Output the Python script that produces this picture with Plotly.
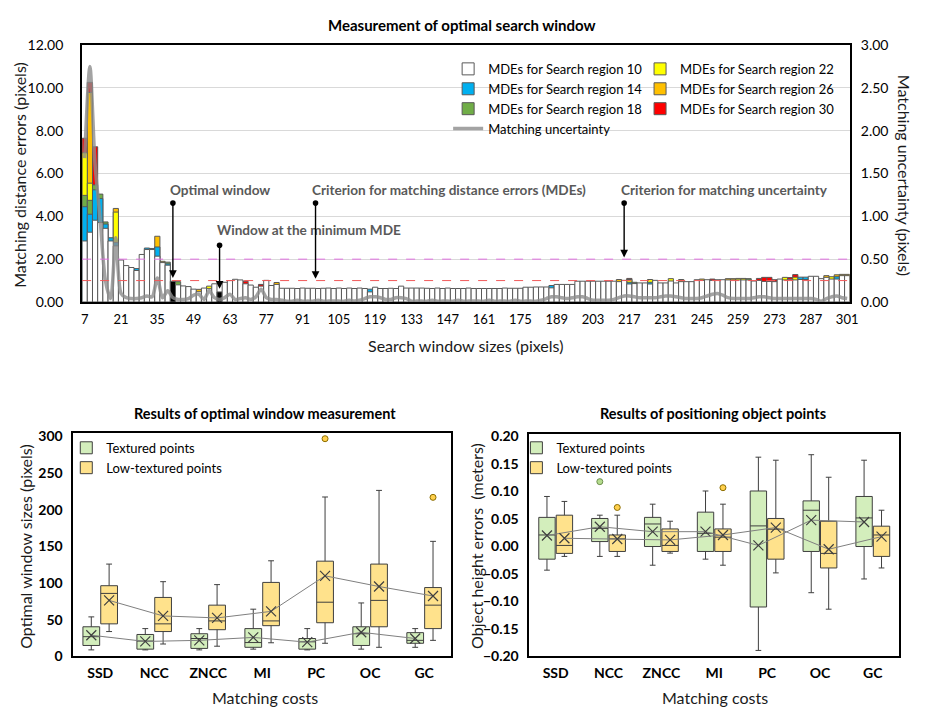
import plotly.graph_objects as go

W, H = 930, 726
FONT = "Lato"

# ---------------- data: top chart ----------------
windows = list(range(7, 302, 2))
xtick_windows = list(range(7, 302, 14))

mde_r10 = [
    2.85, 3.26, 3.82, 3.71, 3.44, 2.85, 2.62, 1.96, 1.70, 1.61,
    1.47, 2.22, 2.45, 2.45, 2.14, 1.84, 1.72, 0.97, 0.80, 0.75,
    0.72, 0.60, 0.48, 0.65, 0.62, 0.85, 0.47, 0.92, 1.00, 1.06,
    1.03, 0.85, 0.79, 0.69, 0.74, 1.01, 0.77, 0.82, 0.64, 0.64,
    0.64, 0.63, 0.65, 0.64, 0.64, 0.63, 0.64, 0.65, 0.63, 0.65,
    0.63, 0.65, 0.63, 0.65, 0.63, 0.47, 0.69, 0.63, 0.63, 0.64,
    0.63, 0.74, 0.65, 0.65, 0.65, 0.65, 0.64, 0.63, 0.65, 0.63,
    0.65, 0.63, 0.63, 0.63, 0.65, 0.63, 0.63, 0.63, 0.63, 0.63,
    0.63, 0.65, 0.64, 0.64, 0.64, 0.69, 0.69, 0.70, 0.70, 0.70,
    0.66, 0.82, 0.82, 0.82, 0.82, 0.97, 0.97, 0.97, 0.97, 0.97,
    0.97, 0.97, 0.97, 0.95, 1.01, 0.84, 0.86, 0.89, 0.89, 0.84,
    1.01, 0.89, 0.89, 0.98, 0.89, 0.95, 0.95, 0.95, 1.04, 1.01,
    1.04, 1.01, 1.04, 1.04, 1.03, 1.03, 1.03, 1.03, 1.03, 0.98,
    1.01, 0.96, 0.96, 0.95, 1.07, 1.03, 1.06, 1.03, 1.05, 1.05,
    1.20, 1.20, 1.09, 1.15, 1.07, 1.07, 1.23, 1.23,
]

# visible tops of the larger search regions (only where they show above smaller ones)
r14_windows = [7, 9, 11, 13, 15, 17, 19, 27, 31, 33, 35, 39, 117, 187, 217, 225, 283, 285, 297]
r14_values = [4.45, 4.10, 5.24, 4.83, 3.64, 3.00, 2.78, 1.56, 2.52, 2.50, 2.57, 1.78, 0.60, 0.77, 0.92, 0.92, 1.16, 1.16, 1.18]
r18_windows = [7, 9, 11, 13, 15, 39, 43, 219, 263]
r18_values = [4.98, 4.75, 5.47, 5.04, 3.74, 1.86, 0.95, 0.92, 1.09]
r22_windows = [7, 9, 19, 55, 217, 225, 233, 259, 261, 277, 281, 295]
r22_values = [6.97, 5.55, 4.20, 0.74, 1.05, 1.05, 1.09, 1.10, 1.10, 1.15, 1.16, 1.18]
r26_windows = [9, 19, 35, 37, 51, 81, 213, 237, 245, 255, 257, 293, 297, 299, 301]
r26_values = [9.79, 4.37, 3.07, 1.90, 0.59, 0.91, 1.05, 1.05, 1.07, 1.09, 1.09, 1.23, 1.27, 1.29, 1.29]
r30_windows = [7, 9, 11, 69, 75, 217, 249, 267, 269, 271, 273, 279, 281]
r30_values = [7.65, 10.26, 7.25, 0.97, 0.82, 1.10, 1.07, 1.10, 1.15, 1.15, 1.04, 1.14, 1.28]

uncertainty = [
    1.68, 2.75, 1.60, 0.95, 0.25, 0.04, 0.75, 0.10, 0.05, 0.04,
    0.04, 0.05, 0.07, 0.06, 0.28, 0.05, 0.13, 0.05, 0.03, 0.03,
    0.04, 0.08, 0.09, 0.03, 0.13, 0.05, 0.03, 0.05, 0.09, 0.03,
    0.04, 0.05, 0.03, 0.06, 0.15, 0.05, 0.03, 0.03, 0.02, 0.01,
    0.01, 0.02, 0.01, 0.01, 0.01, 0.02, 0.01, 0.01, 0.01, 0.01,
    0.01, 0.02, 0.01, 0.02, 0.04, 0.06, 0.06, 0.05, 0.03, 0.03,
    0.05, 0.05, 0.04, 0.01, 0.01, 0.01, 0.01, 0.02, 0.01, 0.01,
    0.01, 0.01, 0.02, 0.01, 0.01, 0.01, 0.01, 0.01, 0.02, 0.01,
    0.01, 0.01, 0.01, 0.02, 0.01, 0.01, 0.01, 0.01, 0.02, 0.04,
    0.06, 0.06, 0.05, 0.04, 0.05, 0.06, 0.06, 0.04, 0.02, 0.02,
    0.02, 0.02, 0.03, 0.05, 0.07, 0.07, 0.06, 0.05, 0.05, 0.05,
    0.05, 0.06, 0.07, 0.07, 0.06, 0.05, 0.04, 0.04, 0.04, 0.05,
    0.07, 0.09, 0.10, 0.08, 0.05, 0.04, 0.04, 0.04, 0.04, 0.05,
    0.06, 0.06, 0.05, 0.04, 0.04, 0.04, 0.04, 0.04, 0.04, 0.04,
    0.04, 0.03, 0.01, 0.04, 0.06, 0.07, 0.05, 0.04,
]

optimal_window = 41
min_mde_window = 59
mde_criterion = 1.0
uncertainty_criterion = 0.5

# ---------------- data: bottom charts ----------------
cost_names = ["SSD", "NCC", "ZNCC", "MI", "PC", "OC", "GC"]

win_tex_min = [9, 9, 9, 10, 9, 10, 12.5]
win_tex_q1 = [15, 10, 11, 12.5, 10, 15, 18]
win_tex_med = [27, 21, 24.5, 19, 20, 31, 22]
win_tex_q3 = [40.5, 30, 31, 38, 24.5, 40.5, 32.5]
win_tex_max = [54, 38, 38, 64.5, 38, 73, 38]
win_tex_mean = [29, 20.5, 22, 26, 19.5, 33, 24.5]

win_low_min = [34, 17, 14, 18.7, 18, 12.5, 22]
win_low_q1 = [44.5, 34, 36.5, 42, 46, 40.5, 38]
win_low_med = [86, 44.5, 48.5, 48.5, 74, 76.5, 70]
win_low_q3 = [96.5, 80.5, 70, 101, 130, 126, 94]
win_low_max = [126, 102, 98, 130.5, 217.5, 226.5, 157]
win_low_mean = [76.5, 55.3, 52.6, 61.5, 110, 95.4, 82.5]
win_low_outlier_cost = ["PC", "GC"]
win_low_outlier_val = [297, 217]

err_tex_min = [-0.043, -0.018, -0.034, -0.023, -0.189, -0.084, -0.059]
err_tex_q1 = [-0.023, 0.009, 0.0, -0.009, -0.110, -0.009, 0.0]
err_tex_med = [0.021, 0.033, 0.041, 0.024, 0.0375, 0.066, 0.052]
err_tex_q3 = [0.053, 0.051, 0.053, 0.0625, 0.101, 0.083, 0.091]
err_tex_max = [0.091, 0.057, 0.077, 0.101, 0.1625, 0.167, 0.157]
err_tex_mean = [0.020, 0.036, 0.027, 0.027, 0.002, 0.048, 0.0446]
err_tex_outlier_cost = ["NCC"]
err_tex_outlier_val = [0.118]

err_low_min = [-0.018, -0.018, -0.012, -0.034, -0.048, -0.114, -0.039]
err_low_q1 = [-0.0125, -0.009, -0.009, -0.009, -0.023, -0.039, -0.018]
err_low_med = [0.002, 0.014, 0.002, 0.017, 0.0315, -0.0125, 0.021]
err_low_q3 = [0.057, 0.021, 0.032, 0.032, 0.051, 0.046, 0.037]
err_low_max = [0.082, 0.057, 0.046, 0.077, 0.157, 0.126, 0.066]
err_low_mean = [0.015, 0.0137, 0.012, 0.021, 0.0345, -0.005, 0.018]
err_low_outlier_cost = ["NCC", "MI"]
err_low_outlier_val = [0.071, 0.107]

# ---------------- figure ----------------
fig = go.Figure()
OUT = "#595959"

region_specs = [
    (30, r30_windows, r30_values, "#FF0000", "legend2", 3),
    (26, r26_windows, r26_values, "#FFC000", "legend2", 2),
    (22, r22_windows, r22_values, "#FFFF00", "legend2", 1),
    (18, r18_windows, r18_values, "#70AD47", "legend", 3),
    (14, r14_windows, r14_values, "#00B0F0", "legend", 2),
]
for reg, wins, vals, col, lg, rank in region_specs:
    fig.add_trace(go.Bar(
        x=wins, y=vals, width=2, name=f"MDEs for Search region {reg}",
        marker=dict(color=col, line=dict(color=OUT, width=1)),
        legend=lg, legendrank=rank, xaxis="x", yaxis="y"))

highlight = {optimal_window, min_mde_window}
r10_colors = ["black" if w in highlight else "white" for w in windows]
fig.add_trace(go.Bar(
    x=windows, y=mde_r10, width=2, name="MDEs for Search region 10",
    marker=dict(color=r10_colors, line=dict(color=OUT, width=1)),
    legend="legend", legendrank=1, xaxis="x", yaxis="y"))

fig.add_trace(go.Scatter(
    x=windows, y=uncertainty, mode="lines", name="Matching uncertainty",
    line=dict(color="rgba(140,140,140,0.8)", width=3.5, shape="spline", smoothing=0.8),
    legend="legend", legendrank=4, xaxis="x", yaxis="y2"))

# bottom boxes
n = len(cost_names)
OFF = 0.165
pos_tex = [i - OFF for i in range(n)]
pos_low = [i + OFF for i in range(n)]
cost_idx = {c: i for i, c in enumerate(cost_names)}
GREEN = "#D3EEBC"
YELLOW = "#FFE28C"
BOXLINE = "#3F3F3F"


def add_boxes(xa, ya, lg, tex, low, tex_out, low_out):
    for name, pos, st, fill in (("Textured points", pos_tex, tex, GREEN),
                                 ("Low-textured points", pos_low, low, YELLOW)):
        fig.add_trace(go.Box(
            x=pos, lowerfence=st[0], q1=st[1], median=st[2], q3=st[3], upperfence=st[4],
            width=0.31, whiskerwidth=0.35, fillcolor=fill,
            line=dict(color=BOXLINE, width=1), boxpoints=False, name=name,
            legend=lg, xaxis=xa, yaxis=ya, hoverinfo="skip"))
    for pos, st in ((pos_tex, tex), (pos_low, low)):
        fig.add_trace(go.Scatter(
            x=pos, y=st[5], mode="lines+markers", showlegend=False,
            line=dict(color="#7F7F7F", width=1),
            marker=dict(symbol="x-thin", size=10, line=dict(color=BOXLINE, width=1.2)),
            xaxis=xa, yaxis=ya))
    for (costs, vals), off, fill, edge in ((tex_out, -OFF, "#B5DC8E", "#6E8F4E"),
                                           (low_out, OFF, "#FFD04D", "#8C6D00")):
        if costs:
            fig.add_trace(go.Scatter(
                x=[cost_idx[c] + off for c in costs], y=vals, mode="markers", showlegend=False,
                marker=dict(symbol="circle", size=6, color=fill, line=dict(color=edge, width=1)),
                xaxis=xa, yaxis=ya))


add_boxes("x2", "y3", "legend3",
          (win_tex_min, win_tex_q1, win_tex_med, win_tex_q3, win_tex_max, win_tex_mean),
          (win_low_min, win_low_q1, win_low_med, win_low_q3, win_low_max, win_low_mean),
          ([], []), (win_low_outlier_cost, win_low_outlier_val))
add_boxes("x3", "y4", "legend4",
          (err_tex_min, err_tex_q1, err_tex_med, err_tex_q3, err_tex_max, err_tex_mean),
          (err_low_min, err_low_q1, err_low_med, err_low_q3, err_low_max, err_low_mean),
          (err_tex_outlier_cost, err_tex_outlier_val), (err_low_outlier_cost, err_low_outlier_val))

# ---------------- layout ----------------
def px(x):
    return x / W


def py(y):
    return 1 - y / H


tick_font = dict(family=FONT, size=14, color="black")
bold_tick = dict(family=FONT, size=14, color="black", weight="bold")
frame = dict(showline=True, mirror=True, linecolor="black", zeroline=False, showgrid=False, ticks="")

annotations = []


def label(text, x, y, size=16, bold=False, angle=0, color="#1A1A1A", xanchor="center"):
    annotations.append(dict(
        text=text, x=px(x), y=py(y), xref="paper", yref="paper", showarrow=False,
        textangle=angle, xanchor=xanchor, yanchor="middle",
        font=dict(family=FONT, size=size, color=color, weight="bold" if bold else "normal")))


label("Measurement of optimal search window", 466, 16, size=15, bold=True, color="black")
label("Matching distance errors (pixels)", 18, 170, size=16, angle=-90)
label("Matching uncertainty (pixels)", 914, 170, size=16, angle=90)
label("Search window sizes (pixels)", 470, 345, size=16)
label("Results of optimal window measurement", 267, 414, size=14.5, bold=True, color="black")
label("Results of positioning object points", 720, 414, size=14.5, bold=True, color="black")
label("Optimal window sizes (pixels)", 24, 550, size=16, angle=-90)
label("Object height errors  (meters)", 480, 550, size=16, angle=-90)
label("Matching costs", 267, 705, size=16)
label("Matching costs", 722, 705, size=16)

# arrows with dot at the tail
ANN_GREY = "#595959"
arrow_specs = [
    ("Optimal window", optimal_window, 1.12, 4.69, -2.0, 5.24),
    ("Window at the minimum MDE", min_mde_window, 0.62, 2.72, -1.8, 3.36),
    ("Criterion for matching distance errors (MDEs)", 96, mde_criterion + 0.08, 4.69, -2.2, 5.24),
    ("Criterion for matching uncertainty", 215, uncertainty_criterion * 4 + 0.08, 4.69, -1.9, 5.24),
]
for text, xw, yhead, ytail, dx, ytext in arrow_specs:
    annotations.append(dict(
        x=xw, y=yhead, ax=xw, ay=ytail, xref="x", yref="y", axref="x", ayref="y",
        text="", showarrow=True, arrowhead=2, arrowsize=1.1, arrowwidth=1.4,
        arrowcolor="black", arrowside="end+start", startarrowhead=6, startarrowsize=1.0))
    annotations.append(dict(
        x=xw + dx, y=ytext, xref="x", yref="y", text=text, showarrow=False,
        xanchor="left", yanchor="middle",
        font=dict(family=FONT, size=13.6, color=ANN_GREY, weight="bold")))

shapes = [
    dict(type="line", xref="x domain", yref="y", x0=0, x1=1, y0=mde_criterion, y1=mde_criterion,
         line=dict(color="#F05A5A", width=1, dash="dash"), layer="above"),
    dict(type="line", xref="x domain", yref="y2", x0=0, x1=1, y0=uncertainty_criterion,
         y1=uncertainty_criterion, line=dict(color="#E070E0", width=1, dash="dash"), layer="above"),
]

legend_common = dict(bgcolor="rgba(0,0,0,0)", xanchor="left", yanchor="top",
                     font=dict(family=FONT, size=13, color="black"), tracegroupgap=0,
                     itemclick=False)

fig.update_layout(
    width=W, height=H, margin=dict(l=0, r=0, t=0, b=0),
    paper_bgcolor="white", plot_bgcolor="white",
    font=dict(family=FONT, color="black"),
    barmode="overlay", boxmode="overlay",
    xaxis=dict(domain=[px(82), px(858)], range=[6, 302], tickvals=xtick_windows,
               tickfont=dict(family=FONT, size=13, color="black"), anchor="y",
               ticklabelstandoff=4, linewidth=2, **frame),
    yaxis=dict(domain=[py(300), py(37)], range=[0, 12], dtick=2, tickformat=".2f",
               tickfont=tick_font, anchor="x", ticklabelstandoff=14,
               showline=True, mirror=True, linecolor="black", linewidth=2,
               zeroline=False, showgrid=True, gridcolor="#D9D9D9", gridwidth=1, ticks=""),
    yaxis2=dict(overlaying="y", side="right", range=[0, 3], dtick=0.5, tickformat=".2f",
                tickfont=tick_font, anchor="x", ticklabelstandoff=10,
                showgrid=False, zeroline=False, showline=False, ticks=""),
    xaxis2=dict(domain=[px(73), px(455)], range=[-0.5, 6.5], tickvals=list(range(n)),
                ticktext=cost_names, tickfont=bold_tick, anchor="y3", ticklabelstandoff=3,
                linewidth=1.5, **frame),
    yaxis3=dict(domain=[py(663), py(434)], range=[0, 305], dtick=50, tickfont=bold_tick,
                anchor="x2", ticklabelstandoff=6, linewidth=1.5, **frame),
    xaxis3=dict(domain=[px(534), px(908)], range=[-0.5, 6.5], tickvals=list(range(n)),
                ticktext=cost_names, tickfont=bold_tick, anchor="y4", ticklabelstandoff=3,
                linewidth=1.5, **frame),
    yaxis4=dict(domain=[py(663), py(435)], range=[-0.2, 0.205], dtick=0.05, tickformat=".2f",
                tickfont=bold_tick, anchor="x3", ticklabelstandoff=6, linewidth=1.5, **frame),
    legend=dict(x=px(452), y=py(46), **legend_common),
    legend2=dict(x=px(646), y=py(46), **legend_common),
    legend3=dict(x=px(66), y=py(434), **legend_common),
    legend4=dict(x=px(521), y=py(434), **legend_common),
    annotations=annotations, shapes=shapes,
    showlegend=True,
)

fig.write_html("out.html")
